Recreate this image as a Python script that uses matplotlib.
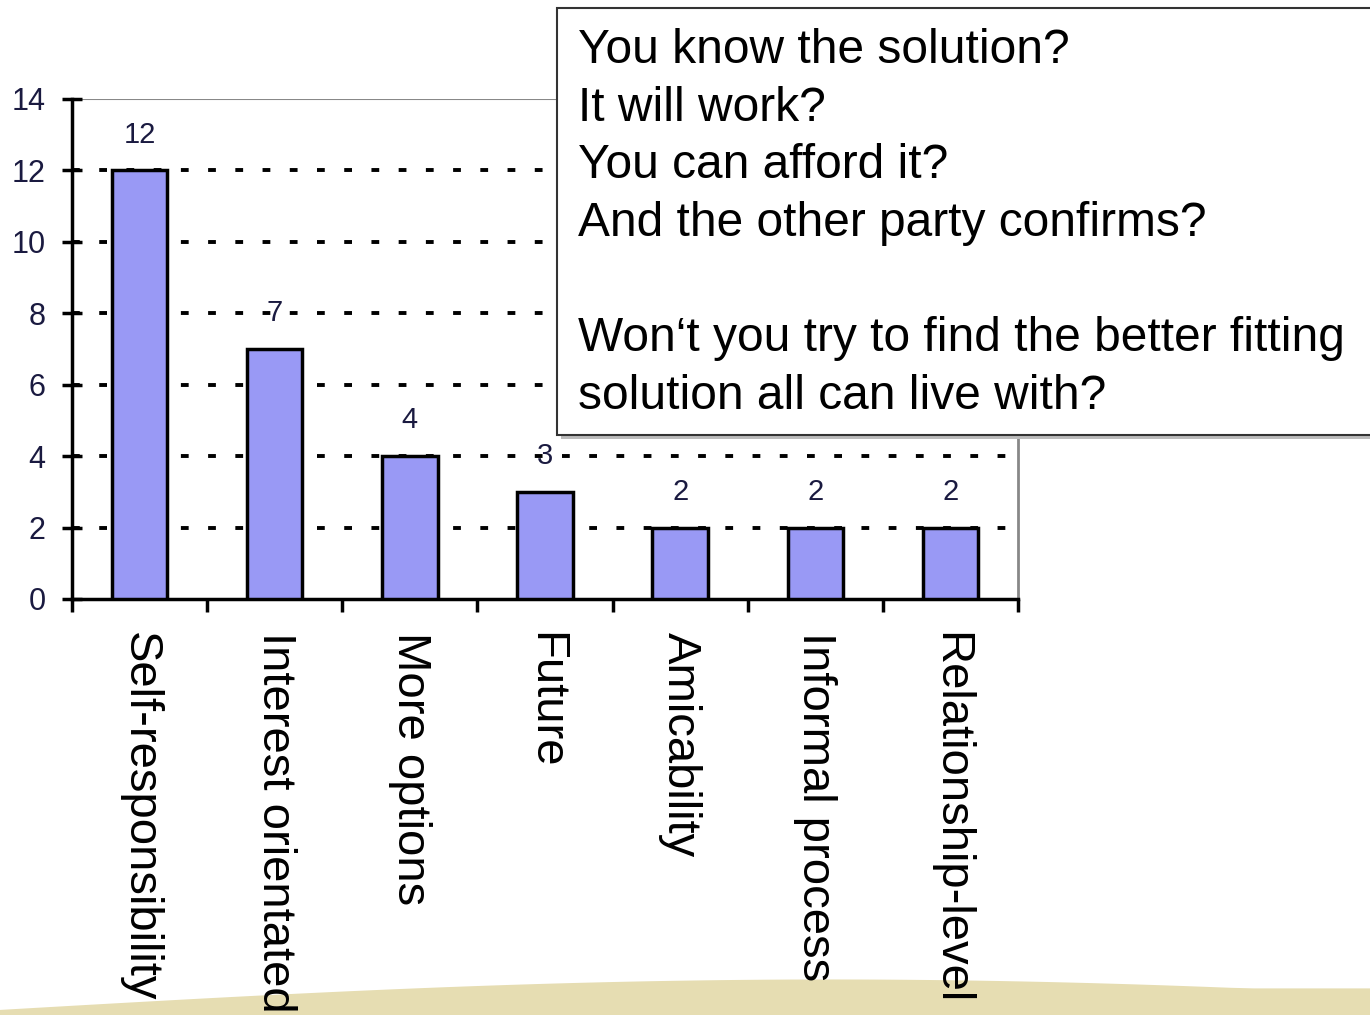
import numpy as np
import matplotlib.pyplot as plt
from matplotlib.patches import Polygon, FancyBboxPatch

plt.rcParams['font.family'] = ['Liberation Sans', 'DejaVu Sans']

categories = ['Self-responsibility', 'Interest orientated', 'More options', 'Future',
              'Amicability', 'Informal process', 'Relationship-level']
counts = [12, 7, 4, 3, 2, 2, 2]
y_ticks = [0, 2, 4, 6, 8, 10, 12, 14]
box_lines = ['You know the solution?', 'It will work?', 'You can afford it?',
             'And the other party confirms?', '',
             'Won\u2018t you try to find the better fitting', 'solution all can live with?']

bar_color = '#9999f5'
navy = '#1a1a40'

fig = plt.figure(figsize=(13.7, 10.15), dpi=100)

# beige swoosh at the bottom of the slide
xs = np.linspace(0, 1, 60)
top = 0.005 + 0.03 * np.sin(np.pi * np.clip(xs * 1.1, 0, 1) * 0.75)
pts = [(x, t) for x, t in zip(xs, top)] + [(1, 0), (0, 0)]
fig.patches.append(Polygon(pts, closed=True, transform=fig.transFigure,
                           facecolor='#e6ddb2', edgecolor='none', zorder=-1))

ax = fig.add_axes([0.0526, 0.4099, 0.6905, 0.4926])
ax.set_facecolor('none')
x = np.arange(len(categories))
ax.bar(x, counts, width=0.41, color=bar_color, edgecolor='black', linewidth=2.5, zorder=3)

for xi, v in zip(x, counts):
    ax.text(xi, v + 1.0, str(v), ha='center', va='center', fontsize=21, color=navy, zorder=4)

ax.set_xlim(-0.5, len(categories) - 0.5)
ax.set_ylim(0, 14)
ax.set_yticks(y_ticks)
ax.set_yticklabels([str(t) for t in y_ticks], fontsize=22, color=navy)
for t in y_ticks[1:-1]:
    ax.axhline(t, color='black', linestyle=(0, (2, 5)), linewidth=2.8, zorder=1)
ax.axhline(14, color='#888888', linewidth=1.5, zorder=1)

ax.tick_params(axis='y', direction='inout', length=14, width=2.5, pad=12)
ax.set_xticks(np.arange(len(categories) + 1) - 0.5, minor=True)
ax.tick_params(axis='x', which='minor', direction='out', length=9, width=2.5)
ax.set_xticks(x)
ax.set_xticklabels(categories, rotation=-90, fontsize=34, va='top', ha='center')
ax.tick_params(axis='x', which='major', length=0, pad=24)

ax.spines['left'].set_linewidth(2.5)
ax.spines['bottom'].set_linewidth(2.5)
ax.spines['top'].set_visible(False)
ax.spines['right'].set_color('#888888')
ax.spines['right'].set_linewidth(2)

# text box in upper right
bx0, by0, bx1, by1 = 557 / 1370, 1 - 435 / 1015, 1.02, 1 - 8 / 1015
shadow = FancyBboxPatch((bx0 + 0.003, by0 - 0.004), bx1 - bx0, by1 - by0,
                        boxstyle='square,pad=0', transform=fig.transFigure,
                        facecolor='#bbbbbb', edgecolor='none', zorder=5)
box = FancyBboxPatch((bx0, by0), bx1 - bx0, by1 - by0,
                     boxstyle='square,pad=0', transform=fig.transFigure,
                     facecolor='white', edgecolor='#333333', linewidth=1.5, zorder=6)
fig.patches.append(shadow)
fig.patches.append(box)
fig.text(578 / 1370, 1 - 28 / 1015, '\n'.join(box_lines), fontsize=34.5, va='top', ha='left',
         linespacing=1.36, zorder=7)

fig.savefig('out.png', dpi=100)
